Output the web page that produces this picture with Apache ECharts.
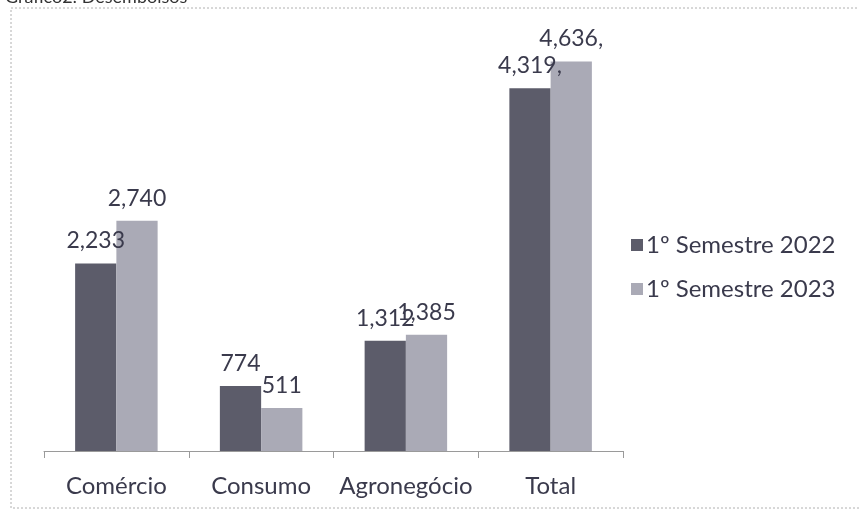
<!DOCTYPE html>
<html>
<head>
<meta charset="utf-8">
<script src="https://cdn.jsdelivr.net/npm/echarts@6/dist/echarts.min.js"></script>
<style>
html,body{margin:0;padding:0;background:#fff;}
#chart{width:859px;height:510px;}
</style>
</head>
<body>
<div id="chart"></div>
<script>
const titleText = 'Gráfico2: Desembolsos';
const categories = ['Comércio', 'Consumo', 'Agronegócio', 'Total'];
const seriesNames = ['1º Semestre 2022', '1º Semestre 2023'];
const values2022 = [2233, 774, 1312, 4319];
const values2023 = [2740, 511, 1385, 4636];
const labels2022 = ['2,233', '774', '1,312', '4,319,'];
const labels2023 = ['2,740', '511', '1,385', '4,636,'];

const FONT = 'Lato, "Open Sans", sans-serif';
const TEXT = '#3a3a4c';

const chart = echarts.init(document.getElementById('chart'), null, {renderer: 'canvas'});

function mkLabel(arr) {
  return {
    show: true,
    position: 'top',
    distance: 11,
    fontFamily: FONT,
    fontSize: 23,
    color: TEXT,
    formatter: p => arr[p.dataIndex]
  };
}

chart.setOption({
  animation: false,
  backgroundColor: '#fff',
  title: {
    text: titleText,
    left: 0,
    top: -17,
    textStyle: {fontFamily: FONT, fontSize: 18, fontWeight: 'normal', color: '#333'}
  },
  graphic: [{
    type: 'rect',
    shape: {x: 11, y: 8, width: 870, height: 500},
    style: {fill: 'none', stroke: '#b0b0b0', lineWidth: 1, lineDash: [2, 2]},
    silent: true
  }],
  legend: {
    orient: 'vertical',
    left: 626,
    top: 228,
    itemWidth: 12,
    itemHeight: 12,
    itemGap: 20,
    icon: 'rect',
    textStyle: {fontFamily: FONT, fontSize: 24, color: TEXT, padding: [0, 0, 0, -2]},
    data: seriesNames
  },
  grid: {left: 44, right: 236, top: 31, bottom: 59, containLabel: false},
  xAxis: {
    type: 'category',
    data: categories,
    axisLine: {lineStyle: {color: '#9a9a9a', width: 1}},
    axisTick: {show: true, length: 7, lineStyle: {color: '#9a9a9a'}},
    axisLabel: {interval: 0, fontFamily: FONT, fontSize: 24, color: TEXT, margin: 23}
  },
  yAxis: {
    type: 'value',
    min: 0,
    max: 5000,
    show: false,
    splitLine: {show: false}
  },
  series: [
    {
      name: seriesNames[0],
      type: 'bar',
      data: values2022,
      barGap: '0%',
      barCategoryGap: '43%',
      itemStyle: {color: '#5c5c6a'},
      label: mkLabel(labels2022)
    },
    {
      name: seriesNames[1],
      type: 'bar',
      data: values2023,
      itemStyle: {color: '#aaaab6'},
      label: mkLabel(labels2023)
    }
  ]
});
</script>
</body>
</html>
